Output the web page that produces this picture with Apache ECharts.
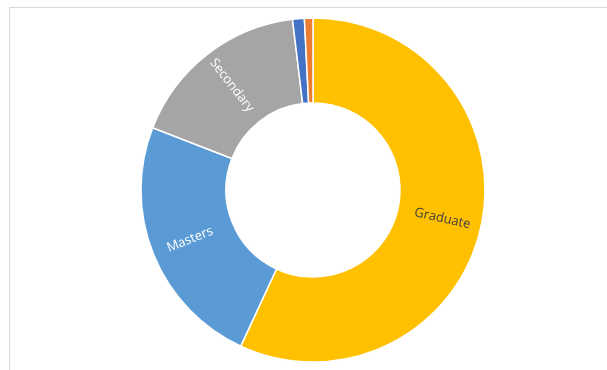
<!DOCTYPE html>
<html>
<head>
<meta charset="utf-8">
<style>
  html, body { margin: 0; padding: 0; background: #ffffff; }
  #frame { position: absolute; left: 9px; top: 7px; width: 620px; height: 380px;
           border-left: 1px solid #d9d9d9; border-top: 1px solid #d9d9d9; box-sizing: border-box; }
  #chart { position: absolute; left: 0; top: 0; width: 607px; height: 370px; }
</style>
<script src="https://cdn.jsdelivr.net/npm/echarts@6/dist/echarts.min.js"></script>
</head>
<body>
<div id="frame"></div>
<div id="chart"></div>
<script>
// Education level shares (percent), clockwise from 12 o'clock
const categories = ['Graduate', 'Masters', 'Secondary', 'Doctorate', 'Other'];
const shares = [56.9, 24.0, 17.2, 1.1, 0.8];
const sliceColors = ['#FFC000', '#5B9BD5', '#A5A5A5', '#4472C4', '#ED7D31'];
const labelColors = ['#404040', '#ffffff', '#ffffff', '#ffffff', '#ffffff'];
const labelled = [true, true, true, false, false];

const chart = echarts.init(document.getElementById('chart'), null, { renderer: 'canvas' });

const data = categories.map((name, i) => ({
  name: name,
  value: shares[i],
  itemStyle: { color: sliceColors[i] },
  label: { show: labelled[i], color: labelColors[i] }
}));

chart.setOption({
  animation: false,
  backgroundColor: 'transparent',
  series: [{
    type: 'pie',
    center: [313, 190],
    radius: [87, 172],
    startAngle: 90,
    clockwise: true,
    avoidLabelOverlap: false,
    itemStyle: { borderColor: '#ffffff', borderWidth: 1.5 },
    label: {
      show: true,
      position: 'inside',
      rotate: 'radial',
      formatter: '{b}',
      fontFamily: '"Open Sans", sans-serif',
      fontSize: 13
    },
    labelLine: { show: false },
    emphasis: { disabled: true },
    data: data
  }]
});
</script>
</body>
</html>
